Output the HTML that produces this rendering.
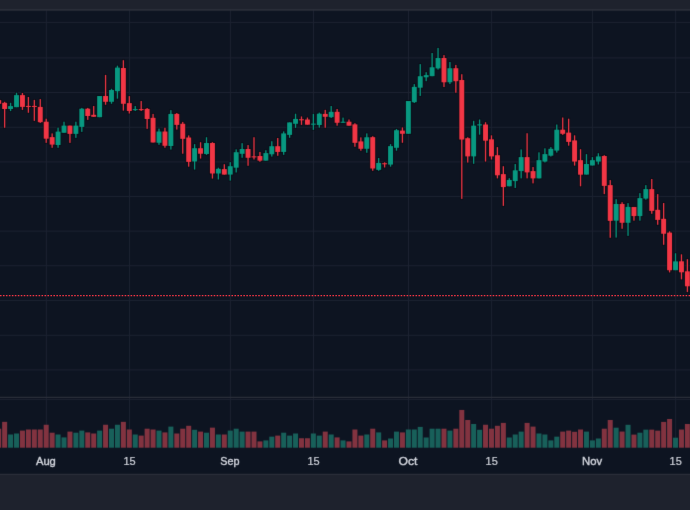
<!DOCTYPE html>
<html lang="en"><head><meta charset="utf-8"><title>Chart</title>
<style>html,body{margin:0;padding:0;background:#0d1421;overflow:hidden}body{width:690px;height:510px;position:relative}svg{display:block;position:absolute;left:0;top:0;}text{font-family:"Liberation Sans",Arial,sans-serif;font-size:11.4px;fill:#d1d4dc;text-anchor:middle;font-weight:400}</style></head><body>
<svg width="690" height="510" viewBox="0 0 690 510">
<defs><filter id="soft" x="0" y="0" width="100%" height="100%" color-interpolation-filters="sRGB"><feConvolveMatrix order="3" kernelMatrix="0.0081 0.0738 0.0081 0.0738 0.6724 0.0738 0.0081 0.0738 0.0081" divisor="1" edgeMode="duplicate" preserveAlpha="true"/></filter></defs><g filter="url(#soft)">
<rect x="-5" y="-5" width="700" height="520" fill="#0d1421"/>
<g stroke="#1c2231" stroke-width="1.0">
<line x1="-5" x2="695" y1="22.40" y2="22.40"/>
<line x1="-5" x2="695" y1="57.90" y2="57.90"/>
<line x1="-5" x2="695" y1="92.50" y2="92.50"/>
<line x1="-5" x2="695" y1="127.30" y2="127.30"/>
<line x1="-5" x2="695" y1="161.90" y2="161.90"/>
<line x1="-5" x2="695" y1="196.45" y2="196.45"/>
<line x1="-5" x2="695" y1="231.10" y2="231.10"/>
<line x1="-5" x2="695" y1="265.70" y2="265.70"/>
<line x1="-5" x2="695" y1="300.45" y2="300.45"/>
<line x1="-5" x2="695" y1="335.30" y2="335.30"/>
<line x1="-5" x2="695" y1="369.90" y2="369.90"/>
<line x1="-5" x2="695" y1="399.40" y2="399.40"/>
<line x1="46.35" x2="46.35" y1="10" y2="448"/>
<line x1="129.47" x2="129.47" y1="10" y2="448"/>
<line x1="230.40" x2="230.40" y1="10" y2="448"/>
<line x1="313.51" x2="313.51" y1="10" y2="448"/>
<line x1="408.51" x2="408.51" y1="10" y2="448"/>
<line x1="491.62" x2="491.62" y1="10" y2="448"/>
<line x1="592.55" x2="592.55" y1="10" y2="448"/>
<line x1="675.67" x2="675.67" y1="10" y2="448"/>
</g>
<line x1="-5" x2="695" y1="397.45" y2="397.45" stroke="#2a2e39" stroke-width="1.2"/>
<g>
<rect x="-3.80" y="428.70" width="5.00" height="19.00" fill="#823340"/>
<rect x="2.14" y="421.85" width="5.00" height="25.85" fill="#823340"/>
<rect x="8.08" y="434.50" width="5.00" height="13.20" fill="#18605a"/>
<rect x="14.02" y="433.50" width="5.00" height="14.20" fill="#18605a"/>
<rect x="19.95" y="430.60" width="5.00" height="17.10" fill="#823340"/>
<rect x="25.89" y="429.50" width="5.00" height="18.20" fill="#823340"/>
<rect x="31.83" y="429.50" width="5.00" height="18.20" fill="#823340"/>
<rect x="37.76" y="429.50" width="5.00" height="18.20" fill="#823340"/>
<rect x="43.70" y="424.75" width="5.00" height="22.95" fill="#823340"/>
<rect x="49.64" y="432.70" width="5.00" height="15.00" fill="#823340"/>
<rect x="55.57" y="434.50" width="5.00" height="13.20" fill="#18605a"/>
<rect x="61.51" y="437.40" width="5.00" height="10.30" fill="#18605a"/>
<rect x="67.45" y="431.60" width="5.00" height="16.10" fill="#823340"/>
<rect x="73.39" y="432.70" width="5.00" height="15.00" fill="#18605a"/>
<rect x="79.32" y="430.60" width="5.00" height="17.10" fill="#18605a"/>
<rect x="85.26" y="432.40" width="5.00" height="15.30" fill="#823340"/>
<rect x="91.20" y="433.50" width="5.00" height="14.20" fill="#823340"/>
<rect x="97.13" y="430.60" width="5.00" height="17.10" fill="#18605a"/>
<rect x="103.07" y="424.75" width="5.00" height="22.95" fill="#823340"/>
<rect x="109.01" y="428.70" width="5.00" height="19.00" fill="#18605a"/>
<rect x="114.94" y="424.75" width="5.00" height="22.95" fill="#18605a"/>
<rect x="120.88" y="421.85" width="5.00" height="25.85" fill="#823340"/>
<rect x="126.82" y="429.50" width="5.00" height="18.20" fill="#823340"/>
<rect x="132.75" y="434.50" width="5.00" height="13.20" fill="#18605a"/>
<rect x="138.69" y="435.60" width="5.00" height="12.10" fill="#823340"/>
<rect x="144.63" y="428.70" width="5.00" height="19.00" fill="#823340"/>
<rect x="150.57" y="429.50" width="5.00" height="18.20" fill="#823340"/>
<rect x="156.50" y="430.60" width="5.00" height="17.10" fill="#18605a"/>
<rect x="162.44" y="432.40" width="5.00" height="15.30" fill="#823340"/>
<rect x="168.38" y="426.60" width="5.00" height="21.10" fill="#18605a"/>
<rect x="174.31" y="433.50" width="5.00" height="14.20" fill="#823340"/>
<rect x="180.25" y="428.70" width="5.00" height="19.00" fill="#823340"/>
<rect x="186.19" y="425.80" width="5.00" height="21.90" fill="#823340"/>
<rect x="192.12" y="429.80" width="5.00" height="17.90" fill="#18605a"/>
<rect x="198.06" y="431.60" width="5.00" height="16.10" fill="#823340"/>
<rect x="204.00" y="432.70" width="5.00" height="15.00" fill="#18605a"/>
<rect x="209.94" y="427.65" width="5.00" height="20.05" fill="#823340"/>
<rect x="215.87" y="434.50" width="5.00" height="13.20" fill="#18605a"/>
<rect x="221.81" y="434.50" width="5.00" height="13.20" fill="#823340"/>
<rect x="227.75" y="430.60" width="5.00" height="17.10" fill="#18605a"/>
<rect x="233.68" y="428.70" width="5.00" height="19.00" fill="#18605a"/>
<rect x="239.62" y="431.60" width="5.00" height="16.10" fill="#18605a"/>
<rect x="245.56" y="431.60" width="5.00" height="16.10" fill="#823340"/>
<rect x="251.50" y="431.60" width="5.00" height="16.10" fill="#823340"/>
<rect x="257.43" y="441.40" width="5.00" height="6.30" fill="#823340"/>
<rect x="263.37" y="440.40" width="5.00" height="7.30" fill="#18605a"/>
<rect x="269.31" y="436.65" width="5.00" height="11.05" fill="#18605a"/>
<rect x="275.24" y="435.60" width="5.00" height="12.10" fill="#823340"/>
<rect x="281.18" y="432.70" width="5.00" height="15.00" fill="#18605a"/>
<rect x="287.12" y="435.60" width="5.00" height="12.10" fill="#18605a"/>
<rect x="293.05" y="433.50" width="5.00" height="14.20" fill="#18605a"/>
<rect x="298.99" y="438.25" width="5.00" height="9.45" fill="#823340"/>
<rect x="304.93" y="438.25" width="5.00" height="9.45" fill="#823340"/>
<rect x="310.87" y="433.50" width="5.00" height="14.20" fill="#18605a"/>
<rect x="316.80" y="435.60" width="5.00" height="12.10" fill="#18605a"/>
<rect x="322.74" y="431.60" width="5.00" height="16.10" fill="#823340"/>
<rect x="328.68" y="434.50" width="5.00" height="13.20" fill="#18605a"/>
<rect x="334.61" y="437.40" width="5.00" height="10.30" fill="#823340"/>
<rect x="340.55" y="440.40" width="5.00" height="7.30" fill="#18605a"/>
<rect x="346.49" y="441.40" width="5.00" height="6.30" fill="#823340"/>
<rect x="352.42" y="429.50" width="5.00" height="18.20" fill="#823340"/>
<rect x="358.36" y="435.60" width="5.00" height="12.10" fill="#823340"/>
<rect x="364.30" y="434.50" width="5.00" height="13.20" fill="#18605a"/>
<rect x="370.24" y="428.70" width="5.00" height="19.00" fill="#823340"/>
<rect x="376.17" y="432.40" width="5.00" height="15.30" fill="#18605a"/>
<rect x="382.11" y="440.40" width="5.00" height="7.30" fill="#823340"/>
<rect x="388.05" y="438.50" width="5.00" height="9.20" fill="#18605a"/>
<rect x="393.98" y="431.60" width="5.00" height="16.10" fill="#18605a"/>
<rect x="399.92" y="432.40" width="5.00" height="15.30" fill="#823340"/>
<rect x="405.86" y="429.50" width="5.00" height="18.20" fill="#18605a"/>
<rect x="411.79" y="429.50" width="5.00" height="18.20" fill="#18605a"/>
<rect x="417.73" y="426.90" width="5.00" height="20.80" fill="#18605a"/>
<rect x="423.67" y="437.50" width="5.00" height="10.20" fill="#18605a"/>
<rect x="429.61" y="428.70" width="5.00" height="19.00" fill="#18605a"/>
<rect x="435.54" y="428.70" width="5.00" height="19.00" fill="#18605a"/>
<rect x="441.48" y="428.70" width="5.00" height="19.00" fill="#823340"/>
<rect x="447.42" y="430.60" width="5.00" height="17.10" fill="#18605a"/>
<rect x="453.35" y="428.70" width="5.00" height="19.00" fill="#823340"/>
<rect x="459.29" y="409.95" width="5.00" height="37.75" fill="#823340"/>
<rect x="465.23" y="420.00" width="5.00" height="27.70" fill="#823340"/>
<rect x="471.16" y="424.00" width="5.00" height="23.70" fill="#18605a"/>
<rect x="477.10" y="429.80" width="5.00" height="17.90" fill="#18605a"/>
<rect x="483.04" y="424.75" width="5.00" height="22.95" fill="#823340"/>
<rect x="488.98" y="428.70" width="5.00" height="19.00" fill="#823340"/>
<rect x="494.91" y="425.80" width="5.00" height="21.90" fill="#823340"/>
<rect x="500.85" y="422.90" width="5.00" height="24.80" fill="#823340"/>
<rect x="506.79" y="437.50" width="5.00" height="10.20" fill="#18605a"/>
<rect x="512.72" y="434.50" width="5.00" height="13.20" fill="#18605a"/>
<rect x="518.66" y="431.60" width="5.00" height="16.10" fill="#18605a"/>
<rect x="524.60" y="422.90" width="5.00" height="24.80" fill="#823340"/>
<rect x="530.53" y="426.60" width="5.00" height="21.10" fill="#823340"/>
<rect x="536.47" y="433.50" width="5.00" height="14.20" fill="#18605a"/>
<rect x="542.41" y="434.50" width="5.00" height="13.20" fill="#18605a"/>
<rect x="548.35" y="440.40" width="5.00" height="7.30" fill="#18605a"/>
<rect x="554.28" y="436.65" width="5.00" height="11.05" fill="#18605a"/>
<rect x="560.22" y="431.60" width="5.00" height="16.10" fill="#823340"/>
<rect x="566.16" y="430.60" width="5.00" height="17.10" fill="#823340"/>
<rect x="572.09" y="431.80" width="5.00" height="15.90" fill="#823340"/>
<rect x="578.03" y="429.50" width="5.00" height="18.20" fill="#823340"/>
<rect x="583.97" y="431.60" width="5.00" height="16.10" fill="#18605a"/>
<rect x="589.90" y="440.40" width="5.00" height="7.30" fill="#18605a"/>
<rect x="595.84" y="438.50" width="5.00" height="9.20" fill="#18605a"/>
<rect x="601.78" y="428.70" width="5.00" height="19.00" fill="#823340"/>
<rect x="607.72" y="420.00" width="5.00" height="27.70" fill="#823340"/>
<rect x="613.65" y="427.70" width="5.00" height="20.00" fill="#18605a"/>
<rect x="619.59" y="431.55" width="5.00" height="16.15" fill="#823340"/>
<rect x="625.53" y="424.80" width="5.00" height="22.90" fill="#18605a"/>
<rect x="631.46" y="434.60" width="5.00" height="13.10" fill="#823340"/>
<rect x="637.40" y="432.70" width="5.00" height="15.00" fill="#18605a"/>
<rect x="643.34" y="429.65" width="5.00" height="18.05" fill="#18605a"/>
<rect x="649.27" y="429.65" width="5.00" height="18.05" fill="#823340"/>
<rect x="655.21" y="430.65" width="5.00" height="17.05" fill="#823340"/>
<rect x="661.15" y="421.90" width="5.00" height="25.80" fill="#823340"/>
<rect x="667.09" y="419.00" width="5.00" height="28.70" fill="#823340"/>
<rect x="673.02" y="437.70" width="5.00" height="10.00" fill="#18605a"/>
<rect x="678.96" y="429.55" width="5.00" height="18.15" fill="#823340"/>
<rect x="684.90" y="424.00" width="5.00" height="23.70" fill="#823340"/>
</g>
<g fill="none" stroke="#05080f" stroke-width="1.6" stroke-opacity="0.7">
<rect x="-1.95" y="100.10" width="1.30" height="3.70"/>
<rect x="-3.77" y="100.10" width="4.95" height="3.70"/>
<rect x="3.99" y="101.80" width="1.30" height="26.00"/>
<rect x="2.17" y="102.80" width="4.95" height="6.20"/>
<rect x="9.93" y="102.80" width="1.30" height="8.30"/>
<rect x="8.10" y="106.10" width="4.95" height="2.90"/>
<rect x="15.87" y="92.75" width="1.30" height="14.45"/>
<rect x="14.04" y="95.10" width="4.95" height="12.10"/>
<rect x="21.80" y="93.00" width="1.30" height="16.90"/>
<rect x="19.98" y="95.10" width="4.95" height="11.80"/>
<rect x="27.74" y="97.00" width="1.30" height="15.80"/>
<rect x="25.91" y="105.90" width="4.95" height="1.10"/>
<rect x="33.68" y="99.90" width="1.30" height="21.00"/>
<rect x="31.85" y="105.90" width="4.95" height="1.10"/>
<rect x="39.61" y="99.10" width="1.30" height="23.80"/>
<rect x="37.79" y="106.90" width="4.95" height="15.30"/>
<rect x="45.55" y="118.70" width="1.30" height="24.20"/>
<rect x="43.73" y="121.70" width="4.95" height="17.00"/>
<rect x="51.49" y="133.40" width="1.30" height="14.40"/>
<rect x="49.66" y="137.10" width="4.95" height="7.50"/>
<rect x="57.42" y="127.60" width="1.30" height="20.20"/>
<rect x="55.60" y="131.60" width="4.95" height="13.40"/>
<rect x="63.36" y="121.70" width="1.30" height="11.10"/>
<rect x="61.54" y="125.60" width="4.95" height="7.20"/>
<rect x="69.30" y="125.60" width="1.30" height="17.30"/>
<rect x="67.47" y="125.60" width="4.95" height="8.30"/>
<rect x="75.23" y="121.70" width="1.30" height="16.20"/>
<rect x="73.41" y="125.60" width="4.95" height="8.30"/>
<rect x="81.17" y="107.90" width="1.30" height="24.00"/>
<rect x="79.35" y="108.70" width="4.95" height="18.20"/>
<rect x="87.11" y="107.90" width="1.30" height="12.00"/>
<rect x="85.28" y="108.70" width="4.95" height="7.30"/>
<rect x="93.05" y="106.00" width="1.30" height="10.80"/>
<rect x="91.22" y="114.80" width="4.95" height="2.00"/>
<rect x="98.98" y="96.00" width="1.30" height="21.20"/>
<rect x="97.16" y="96.00" width="4.95" height="21.20"/>
<rect x="104.92" y="74.90" width="1.30" height="29.90"/>
<rect x="103.10" y="96.00" width="4.95" height="5.80"/>
<rect x="110.86" y="88.80" width="1.30" height="15.00"/>
<rect x="109.03" y="90.00" width="4.95" height="11.80"/>
<rect x="116.79" y="65.65" width="1.30" height="33.05"/>
<rect x="114.97" y="67.60" width="4.95" height="23.60"/>
<rect x="122.73" y="60.20" width="1.30" height="50.45"/>
<rect x="120.91" y="68.00" width="4.95" height="35.80"/>
<rect x="128.67" y="96.10" width="1.30" height="17.45"/>
<rect x="126.84" y="103.10" width="4.95" height="7.90"/>
<rect x="134.60" y="106.00" width="1.30" height="5.00"/>
<rect x="132.78" y="109.05" width="4.95" height="1.10"/>
<rect x="140.54" y="101.00" width="1.30" height="10.00"/>
<rect x="138.72" y="109.05" width="4.95" height="1.10"/>
<rect x="146.48" y="108.00" width="1.30" height="20.85"/>
<rect x="144.65" y="108.90" width="4.95" height="10.10"/>
<rect x="152.42" y="113.90" width="1.30" height="28.60"/>
<rect x="150.59" y="117.80" width="4.95" height="24.70"/>
<rect x="158.35" y="128.60" width="1.30" height="16.25"/>
<rect x="156.53" y="131.50" width="4.95" height="11.30"/>
<rect x="164.29" y="127.70" width="1.30" height="20.05"/>
<rect x="162.47" y="131.50" width="4.95" height="14.30"/>
<rect x="170.23" y="110.10" width="1.30" height="39.50"/>
<rect x="168.40" y="113.90" width="4.95" height="32.10"/>
<rect x="176.16" y="113.00" width="1.30" height="16.60"/>
<rect x="174.34" y="113.90" width="4.95" height="11.00"/>
<rect x="182.10" y="121.90" width="1.30" height="31.85"/>
<rect x="180.28" y="123.75" width="4.95" height="15.10"/>
<rect x="188.04" y="135.40" width="1.30" height="31.30"/>
<rect x="186.21" y="137.50" width="4.95" height="24.40"/>
<rect x="193.97" y="144.10" width="1.30" height="25.50"/>
<rect x="192.15" y="148.20" width="4.95" height="13.30"/>
<rect x="199.91" y="142.20" width="1.30" height="16.40"/>
<rect x="198.09" y="148.20" width="4.95" height="5.55"/>
<rect x="205.85" y="137.20" width="1.30" height="17.70"/>
<rect x="204.02" y="143.00" width="4.95" height="11.00"/>
<rect x="211.79" y="142.20" width="1.30" height="36.40"/>
<rect x="209.96" y="143.00" width="4.95" height="30.50"/>
<rect x="217.72" y="167.70" width="1.30" height="11.80"/>
<rect x="215.90" y="168.80" width="4.95" height="4.70"/>
<rect x="223.66" y="164.20" width="1.30" height="10.40"/>
<rect x="221.84" y="169.10" width="4.95" height="5.50"/>
<rect x="229.60" y="162.10" width="1.30" height="18.55"/>
<rect x="227.77" y="166.20" width="4.95" height="8.40"/>
<rect x="235.53" y="149.35" width="1.30" height="23.15"/>
<rect x="233.71" y="152.20" width="4.95" height="15.50"/>
<rect x="241.47" y="143.15" width="1.30" height="14.65"/>
<rect x="239.65" y="149.00" width="4.95" height="4.85"/>
<rect x="247.41" y="145.05" width="1.30" height="20.75"/>
<rect x="245.58" y="149.00" width="4.95" height="8.80"/>
<rect x="253.34" y="137.20" width="1.30" height="22.30"/>
<rect x="251.52" y="156.32" width="4.95" height="1.10"/>
<rect x="259.28" y="151.95" width="1.30" height="9.85"/>
<rect x="257.46" y="156.00" width="4.95" height="4.65"/>
<rect x="265.22" y="150.20" width="1.30" height="10.45"/>
<rect x="263.39" y="153.10" width="4.95" height="7.55"/>
<rect x="271.16" y="141.20" width="1.30" height="15.40"/>
<rect x="269.33" y="146.20" width="4.95" height="8.10"/>
<rect x="277.09" y="138.00" width="1.30" height="17.80"/>
<rect x="275.27" y="146.20" width="4.95" height="5.75"/>
<rect x="283.03" y="131.40" width="1.30" height="23.45"/>
<rect x="281.20" y="133.40" width="4.95" height="18.55"/>
<rect x="288.97" y="122.40" width="1.30" height="15.40"/>
<rect x="287.14" y="122.40" width="4.95" height="12.50"/>
<rect x="294.90" y="113.70" width="1.30" height="14.25"/>
<rect x="293.08" y="118.90" width="4.95" height="4.90"/>
<rect x="300.84" y="116.40" width="1.30" height="8.50"/>
<rect x="299.02" y="119.23" width="4.95" height="1.10"/>
<rect x="306.78" y="117.50" width="1.30" height="7.20"/>
<rect x="304.95" y="119.50" width="4.95" height="5.20"/>
<rect x="312.72" y="113.80" width="1.30" height="16.10"/>
<rect x="310.89" y="123.60" width="4.95" height="1.10"/>
<rect x="318.65" y="112.60" width="1.30" height="15.10"/>
<rect x="316.83" y="113.70" width="4.95" height="11.30"/>
<rect x="324.59" y="109.85" width="1.30" height="17.95"/>
<rect x="322.76" y="113.90" width="4.95" height="2.90"/>
<rect x="330.53" y="106.00" width="1.30" height="12.00"/>
<rect x="328.70" y="111.80" width="4.95" height="5.40"/>
<rect x="336.46" y="109.00" width="1.30" height="16.70"/>
<rect x="334.64" y="111.80" width="4.95" height="11.00"/>
<rect x="342.40" y="117.60" width="1.30" height="5.20"/>
<rect x="340.57" y="121.70" width="4.95" height="1.10"/>
<rect x="348.34" y="119.50" width="1.30" height="6.20"/>
<rect x="346.51" y="121.70" width="4.95" height="4.00"/>
<rect x="354.27" y="123.20" width="1.30" height="23.60"/>
<rect x="352.45" y="124.35" width="4.95" height="18.50"/>
<rect x="360.21" y="137.35" width="1.30" height="13.40"/>
<rect x="358.39" y="141.40" width="4.95" height="7.40"/>
<rect x="366.15" y="133.35" width="1.30" height="19.45"/>
<rect x="364.32" y="137.25" width="4.95" height="11.55"/>
<rect x="372.09" y="136.20" width="1.30" height="34.60"/>
<rect x="370.26" y="137.15" width="4.95" height="31.35"/>
<rect x="378.02" y="158.00" width="1.30" height="12.80"/>
<rect x="376.20" y="162.90" width="4.95" height="6.95"/>
<rect x="383.96" y="162.30" width="1.30" height="5.20"/>
<rect x="382.13" y="163.20" width="4.95" height="1.10"/>
<rect x="389.90" y="144.10" width="1.30" height="22.60"/>
<rect x="388.07" y="146.10" width="4.95" height="18.50"/>
<rect x="395.83" y="129.00" width="1.30" height="21.70"/>
<rect x="394.01" y="130.20" width="4.95" height="17.60"/>
<rect x="401.77" y="127.40" width="1.30" height="15.40"/>
<rect x="399.94" y="130.60" width="4.95" height="3.20"/>
<rect x="407.71" y="101.00" width="1.30" height="32.80"/>
<rect x="405.88" y="101.00" width="4.95" height="32.80"/>
<rect x="413.64" y="84.10" width="1.30" height="18.90"/>
<rect x="411.82" y="86.85" width="4.95" height="15.35"/>
<rect x="419.58" y="64.10" width="1.30" height="31.85"/>
<rect x="417.76" y="76.20" width="4.95" height="11.50"/>
<rect x="425.52" y="72.20" width="1.30" height="9.00"/>
<rect x="423.69" y="75.10" width="4.95" height="2.20"/>
<rect x="431.46" y="53.00" width="1.30" height="23.20"/>
<rect x="429.63" y="67.25" width="4.95" height="8.95"/>
<rect x="437.39" y="47.90" width="1.30" height="21.70"/>
<rect x="435.57" y="58.00" width="4.95" height="10.40"/>
<rect x="443.33" y="55.10" width="1.30" height="31.95"/>
<rect x="441.50" y="58.00" width="4.95" height="24.30"/>
<rect x="449.27" y="62.00" width="1.30" height="22.10"/>
<rect x="447.44" y="68.20" width="4.95" height="14.10"/>
<rect x="455.20" y="64.90" width="1.30" height="27.90"/>
<rect x="453.38" y="68.20" width="4.95" height="13.00"/>
<rect x="461.14" y="74.20" width="1.30" height="124.70"/>
<rect x="459.31" y="80.00" width="4.95" height="59.55"/>
<rect x="467.08" y="137.25" width="1.30" height="25.35"/>
<rect x="465.25" y="138.20" width="4.95" height="18.20"/>
<rect x="473.01" y="120.80" width="1.30" height="43.00"/>
<rect x="471.19" y="125.65" width="4.95" height="30.75"/>
<rect x="478.95" y="119.50" width="1.30" height="15.20"/>
<rect x="477.13" y="124.33" width="4.95" height="1.10"/>
<rect x="484.89" y="122.20" width="1.30" height="39.40"/>
<rect x="483.06" y="124.50" width="4.95" height="16.20"/>
<rect x="490.83" y="135.30" width="1.30" height="24.25"/>
<rect x="489.00" y="139.30" width="4.95" height="17.10"/>
<rect x="496.76" y="147.10" width="1.30" height="31.30"/>
<rect x="494.94" y="155.20" width="4.95" height="20.10"/>
<rect x="502.70" y="166.20" width="1.30" height="39.70"/>
<rect x="500.87" y="174.10" width="4.95" height="13.00"/>
<rect x="508.64" y="178.20" width="1.30" height="8.10"/>
<rect x="506.81" y="179.90" width="4.95" height="6.40"/>
<rect x="514.57" y="164.00" width="1.30" height="24.00"/>
<rect x="512.75" y="170.30" width="4.95" height="10.80"/>
<rect x="520.51" y="149.40" width="1.30" height="29.00"/>
<rect x="518.69" y="157.10" width="4.95" height="14.00"/>
<rect x="526.45" y="133.20" width="1.30" height="45.20"/>
<rect x="524.62" y="157.10" width="4.95" height="15.30"/>
<rect x="532.38" y="167.00" width="1.30" height="16.40"/>
<rect x="530.56" y="171.10" width="4.95" height="7.30"/>
<rect x="538.32" y="152.30" width="1.30" height="26.10"/>
<rect x="536.50" y="160.15" width="4.95" height="18.25"/>
<rect x="544.26" y="148.30" width="1.30" height="14.20"/>
<rect x="542.43" y="154.10" width="4.95" height="7.50"/>
<rect x="550.20" y="147.10" width="1.30" height="9.45"/>
<rect x="548.37" y="148.80" width="4.95" height="6.90"/>
<rect x="556.13" y="124.50" width="1.30" height="28.10"/>
<rect x="554.31" y="129.70" width="4.95" height="20.90"/>
<rect x="562.07" y="117.50" width="1.30" height="17.40"/>
<rect x="560.24" y="129.70" width="4.95" height="4.10"/>
<rect x="568.01" y="118.70" width="1.30" height="27.00"/>
<rect x="566.18" y="132.60" width="4.95" height="9.30"/>
<rect x="573.94" y="135.30" width="1.30" height="30.35"/>
<rect x="572.12" y="140.40" width="4.95" height="21.20"/>
<rect x="579.88" y="149.20" width="1.30" height="37.10"/>
<rect x="578.06" y="160.15" width="4.95" height="14.55"/>
<rect x="585.82" y="154.10" width="1.30" height="20.50"/>
<rect x="583.99" y="164.00" width="4.95" height="10.60"/>
<rect x="591.75" y="157.10" width="1.30" height="8.40"/>
<rect x="589.93" y="160.15" width="4.95" height="5.35"/>
<rect x="597.69" y="153.20" width="1.30" height="11.30"/>
<rect x="595.87" y="156.40" width="4.95" height="5.20"/>
<rect x="603.63" y="155.20" width="1.30" height="38.90"/>
<rect x="601.80" y="156.00" width="4.95" height="29.90"/>
<rect x="609.57" y="180.10" width="1.30" height="57.70"/>
<rect x="607.74" y="185.10" width="4.95" height="35.75"/>
<rect x="615.50" y="199.20" width="1.30" height="38.40"/>
<rect x="613.68" y="203.95" width="4.95" height="16.75"/>
<rect x="621.44" y="202.20" width="1.30" height="26.60"/>
<rect x="619.61" y="203.95" width="4.95" height="18.85"/>
<rect x="627.38" y="203.10" width="1.30" height="32.80"/>
<rect x="625.55" y="206.85" width="4.95" height="15.95"/>
<rect x="633.31" y="206.95" width="1.30" height="13.75"/>
<rect x="631.49" y="206.95" width="4.95" height="9.15"/>
<rect x="639.25" y="193.10" width="1.30" height="27.60"/>
<rect x="637.43" y="198.10" width="4.95" height="18.00"/>
<rect x="645.19" y="185.10" width="1.30" height="14.60"/>
<rect x="643.36" y="189.10" width="4.95" height="9.50"/>
<rect x="651.12" y="179.00" width="1.30" height="34.80"/>
<rect x="649.30" y="189.10" width="4.95" height="21.80"/>
<rect x="657.06" y="194.10" width="1.30" height="30.70"/>
<rect x="655.24" y="209.80" width="4.95" height="10.10"/>
<rect x="663.00" y="203.00" width="1.30" height="41.80"/>
<rect x="661.17" y="218.80" width="4.95" height="14.95"/>
<rect x="668.94" y="231.30" width="1.30" height="41.15"/>
<rect x="667.11" y="232.60" width="4.95" height="37.65"/>
<rect x="674.87" y="253.20" width="1.30" height="17.05"/>
<rect x="673.05" y="261.35" width="4.95" height="8.90"/>
<rect x="680.81" y="254.30" width="1.30" height="25.10"/>
<rect x="678.98" y="261.30" width="4.95" height="11.00"/>
<rect x="686.75" y="259.15" width="1.30" height="32.95"/>
<rect x="684.92" y="271.30" width="4.95" height="15.00"/>
</g>
<g>
<rect x="-1.95" y="100.10" width="1.30" height="3.70" fill="#f23645"/>
<rect x="-3.77" y="100.10" width="4.95" height="3.70" fill="#f23645"/>
<rect x="3.99" y="101.80" width="1.30" height="26.00" fill="#f23645"/>
<rect x="2.17" y="102.80" width="4.95" height="6.20" fill="#f23645"/>
<rect x="9.93" y="102.80" width="1.30" height="8.30" fill="#089981"/>
<rect x="8.10" y="106.10" width="4.95" height="2.90" fill="#089981"/>
<rect x="15.87" y="92.75" width="1.30" height="14.45" fill="#089981"/>
<rect x="14.04" y="95.10" width="4.95" height="12.10" fill="#089981"/>
<rect x="21.80" y="93.00" width="1.30" height="16.90" fill="#f23645"/>
<rect x="19.98" y="95.10" width="4.95" height="11.80" fill="#f23645"/>
<rect x="27.74" y="97.00" width="1.30" height="15.80" fill="#f23645"/>
<rect x="25.91" y="105.90" width="4.95" height="1.10" fill="#f23645"/>
<rect x="33.68" y="99.90" width="1.30" height="21.00" fill="#f23645"/>
<rect x="31.85" y="105.90" width="4.95" height="1.10" fill="#f23645"/>
<rect x="39.61" y="99.10" width="1.30" height="23.80" fill="#f23645"/>
<rect x="37.79" y="106.90" width="4.95" height="15.30" fill="#f23645"/>
<rect x="45.55" y="118.70" width="1.30" height="24.20" fill="#f23645"/>
<rect x="43.73" y="121.70" width="4.95" height="17.00" fill="#f23645"/>
<rect x="51.49" y="133.40" width="1.30" height="14.40" fill="#f23645"/>
<rect x="49.66" y="137.10" width="4.95" height="7.50" fill="#f23645"/>
<rect x="57.42" y="127.60" width="1.30" height="20.20" fill="#089981"/>
<rect x="55.60" y="131.60" width="4.95" height="13.40" fill="#089981"/>
<rect x="63.36" y="121.70" width="1.30" height="11.10" fill="#089981"/>
<rect x="61.54" y="125.60" width="4.95" height="7.20" fill="#089981"/>
<rect x="69.30" y="125.60" width="1.30" height="17.30" fill="#f23645"/>
<rect x="67.47" y="125.60" width="4.95" height="8.30" fill="#f23645"/>
<rect x="75.23" y="121.70" width="1.30" height="16.20" fill="#089981"/>
<rect x="73.41" y="125.60" width="4.95" height="8.30" fill="#089981"/>
<rect x="81.17" y="107.90" width="1.30" height="24.00" fill="#089981"/>
<rect x="79.35" y="108.70" width="4.95" height="18.20" fill="#089981"/>
<rect x="87.11" y="107.90" width="1.30" height="12.00" fill="#f23645"/>
<rect x="85.28" y="108.70" width="4.95" height="7.30" fill="#f23645"/>
<rect x="93.05" y="106.00" width="1.30" height="10.80" fill="#f23645"/>
<rect x="91.22" y="114.80" width="4.95" height="2.00" fill="#f23645"/>
<rect x="98.98" y="96.00" width="1.30" height="21.20" fill="#089981"/>
<rect x="97.16" y="96.00" width="4.95" height="21.20" fill="#089981"/>
<rect x="104.92" y="74.90" width="1.30" height="29.90" fill="#f23645"/>
<rect x="103.10" y="96.00" width="4.95" height="5.80" fill="#f23645"/>
<rect x="110.86" y="88.80" width="1.30" height="15.00" fill="#089981"/>
<rect x="109.03" y="90.00" width="4.95" height="11.80" fill="#089981"/>
<rect x="116.79" y="65.65" width="1.30" height="33.05" fill="#089981"/>
<rect x="114.97" y="67.60" width="4.95" height="23.60" fill="#089981"/>
<rect x="122.73" y="60.20" width="1.30" height="50.45" fill="#f23645"/>
<rect x="120.91" y="68.00" width="4.95" height="35.80" fill="#f23645"/>
<rect x="128.67" y="96.10" width="1.30" height="17.45" fill="#f23645"/>
<rect x="126.84" y="103.10" width="4.95" height="7.90" fill="#f23645"/>
<rect x="134.60" y="106.00" width="1.30" height="5.00" fill="#089981"/>
<rect x="132.78" y="109.05" width="4.95" height="1.10" fill="#089981"/>
<rect x="140.54" y="101.00" width="1.30" height="10.00" fill="#f23645"/>
<rect x="138.72" y="109.05" width="4.95" height="1.10" fill="#f23645"/>
<rect x="146.48" y="108.00" width="1.30" height="20.85" fill="#f23645"/>
<rect x="144.65" y="108.90" width="4.95" height="10.10" fill="#f23645"/>
<rect x="152.42" y="113.90" width="1.30" height="28.60" fill="#f23645"/>
<rect x="150.59" y="117.80" width="4.95" height="24.70" fill="#f23645"/>
<rect x="158.35" y="128.60" width="1.30" height="16.25" fill="#089981"/>
<rect x="156.53" y="131.50" width="4.95" height="11.30" fill="#089981"/>
<rect x="164.29" y="127.70" width="1.30" height="20.05" fill="#f23645"/>
<rect x="162.47" y="131.50" width="4.95" height="14.30" fill="#f23645"/>
<rect x="170.23" y="110.10" width="1.30" height="39.50" fill="#089981"/>
<rect x="168.40" y="113.90" width="4.95" height="32.10" fill="#089981"/>
<rect x="176.16" y="113.00" width="1.30" height="16.60" fill="#f23645"/>
<rect x="174.34" y="113.90" width="4.95" height="11.00" fill="#f23645"/>
<rect x="182.10" y="121.90" width="1.30" height="31.85" fill="#f23645"/>
<rect x="180.28" y="123.75" width="4.95" height="15.10" fill="#f23645"/>
<rect x="188.04" y="135.40" width="1.30" height="31.30" fill="#f23645"/>
<rect x="186.21" y="137.50" width="4.95" height="24.40" fill="#f23645"/>
<rect x="193.97" y="144.10" width="1.30" height="25.50" fill="#089981"/>
<rect x="192.15" y="148.20" width="4.95" height="13.30" fill="#089981"/>
<rect x="199.91" y="142.20" width="1.30" height="16.40" fill="#f23645"/>
<rect x="198.09" y="148.20" width="4.95" height="5.55" fill="#f23645"/>
<rect x="205.85" y="137.20" width="1.30" height="17.70" fill="#089981"/>
<rect x="204.02" y="143.00" width="4.95" height="11.00" fill="#089981"/>
<rect x="211.79" y="142.20" width="1.30" height="36.40" fill="#f23645"/>
<rect x="209.96" y="143.00" width="4.95" height="30.50" fill="#f23645"/>
<rect x="217.72" y="167.70" width="1.30" height="11.80" fill="#089981"/>
<rect x="215.90" y="168.80" width="4.95" height="4.70" fill="#089981"/>
<rect x="223.66" y="164.20" width="1.30" height="10.40" fill="#f23645"/>
<rect x="221.84" y="169.10" width="4.95" height="5.50" fill="#f23645"/>
<rect x="229.60" y="162.10" width="1.30" height="18.55" fill="#089981"/>
<rect x="227.77" y="166.20" width="4.95" height="8.40" fill="#089981"/>
<rect x="235.53" y="149.35" width="1.30" height="23.15" fill="#089981"/>
<rect x="233.71" y="152.20" width="4.95" height="15.50" fill="#089981"/>
<rect x="241.47" y="143.15" width="1.30" height="14.65" fill="#089981"/>
<rect x="239.65" y="149.00" width="4.95" height="4.85" fill="#089981"/>
<rect x="247.41" y="145.05" width="1.30" height="20.75" fill="#f23645"/>
<rect x="245.58" y="149.00" width="4.95" height="8.80" fill="#f23645"/>
<rect x="253.34" y="137.20" width="1.30" height="22.30" fill="#f23645"/>
<rect x="251.52" y="156.32" width="4.95" height="1.10" fill="#f23645"/>
<rect x="259.28" y="151.95" width="1.30" height="9.85" fill="#f23645"/>
<rect x="257.46" y="156.00" width="4.95" height="4.65" fill="#f23645"/>
<rect x="265.22" y="150.20" width="1.30" height="10.45" fill="#089981"/>
<rect x="263.39" y="153.10" width="4.95" height="7.55" fill="#089981"/>
<rect x="271.16" y="141.20" width="1.30" height="15.40" fill="#089981"/>
<rect x="269.33" y="146.20" width="4.95" height="8.10" fill="#089981"/>
<rect x="277.09" y="138.00" width="1.30" height="17.80" fill="#f23645"/>
<rect x="275.27" y="146.20" width="4.95" height="5.75" fill="#f23645"/>
<rect x="283.03" y="131.40" width="1.30" height="23.45" fill="#089981"/>
<rect x="281.20" y="133.40" width="4.95" height="18.55" fill="#089981"/>
<rect x="288.97" y="122.40" width="1.30" height="15.40" fill="#089981"/>
<rect x="287.14" y="122.40" width="4.95" height="12.50" fill="#089981"/>
<rect x="294.90" y="113.70" width="1.30" height="14.25" fill="#089981"/>
<rect x="293.08" y="118.90" width="4.95" height="4.90" fill="#089981"/>
<rect x="300.84" y="116.40" width="1.30" height="8.50" fill="#f23645"/>
<rect x="299.02" y="119.23" width="4.95" height="1.10" fill="#f23645"/>
<rect x="306.78" y="117.50" width="1.30" height="7.20" fill="#f23645"/>
<rect x="304.95" y="119.50" width="4.95" height="5.20" fill="#f23645"/>
<rect x="312.72" y="113.80" width="1.30" height="16.10" fill="#089981"/>
<rect x="310.89" y="123.60" width="4.95" height="1.10" fill="#089981"/>
<rect x="318.65" y="112.60" width="1.30" height="15.10" fill="#089981"/>
<rect x="316.83" y="113.70" width="4.95" height="11.30" fill="#089981"/>
<rect x="324.59" y="109.85" width="1.30" height="17.95" fill="#f23645"/>
<rect x="322.76" y="113.90" width="4.95" height="2.90" fill="#f23645"/>
<rect x="330.53" y="106.00" width="1.30" height="12.00" fill="#089981"/>
<rect x="328.70" y="111.80" width="4.95" height="5.40" fill="#089981"/>
<rect x="336.46" y="109.00" width="1.30" height="16.70" fill="#f23645"/>
<rect x="334.64" y="111.80" width="4.95" height="11.00" fill="#f23645"/>
<rect x="342.40" y="117.60" width="1.30" height="5.20" fill="#089981"/>
<rect x="340.57" y="121.70" width="4.95" height="1.10" fill="#089981"/>
<rect x="348.34" y="119.50" width="1.30" height="6.20" fill="#f23645"/>
<rect x="346.51" y="121.70" width="4.95" height="4.00" fill="#f23645"/>
<rect x="354.27" y="123.20" width="1.30" height="23.60" fill="#f23645"/>
<rect x="352.45" y="124.35" width="4.95" height="18.50" fill="#f23645"/>
<rect x="360.21" y="137.35" width="1.30" height="13.40" fill="#f23645"/>
<rect x="358.39" y="141.40" width="4.95" height="7.40" fill="#f23645"/>
<rect x="366.15" y="133.35" width="1.30" height="19.45" fill="#089981"/>
<rect x="364.32" y="137.25" width="4.95" height="11.55" fill="#089981"/>
<rect x="372.09" y="136.20" width="1.30" height="34.60" fill="#f23645"/>
<rect x="370.26" y="137.15" width="4.95" height="31.35" fill="#f23645"/>
<rect x="378.02" y="158.00" width="1.30" height="12.80" fill="#089981"/>
<rect x="376.20" y="162.90" width="4.95" height="6.95" fill="#089981"/>
<rect x="383.96" y="162.30" width="1.30" height="5.20" fill="#f23645"/>
<rect x="382.13" y="163.20" width="4.95" height="1.10" fill="#f23645"/>
<rect x="389.90" y="144.10" width="1.30" height="22.60" fill="#089981"/>
<rect x="388.07" y="146.10" width="4.95" height="18.50" fill="#089981"/>
<rect x="395.83" y="129.00" width="1.30" height="21.70" fill="#089981"/>
<rect x="394.01" y="130.20" width="4.95" height="17.60" fill="#089981"/>
<rect x="401.77" y="127.40" width="1.30" height="15.40" fill="#f23645"/>
<rect x="399.94" y="130.60" width="4.95" height="3.20" fill="#f23645"/>
<rect x="407.71" y="101.00" width="1.30" height="32.80" fill="#089981"/>
<rect x="405.88" y="101.00" width="4.95" height="32.80" fill="#089981"/>
<rect x="413.64" y="84.10" width="1.30" height="18.90" fill="#089981"/>
<rect x="411.82" y="86.85" width="4.95" height="15.35" fill="#089981"/>
<rect x="419.58" y="64.10" width="1.30" height="31.85" fill="#089981"/>
<rect x="417.76" y="76.20" width="4.95" height="11.50" fill="#089981"/>
<rect x="425.52" y="72.20" width="1.30" height="9.00" fill="#089981"/>
<rect x="423.69" y="75.10" width="4.95" height="2.20" fill="#089981"/>
<rect x="431.46" y="53.00" width="1.30" height="23.20" fill="#089981"/>
<rect x="429.63" y="67.25" width="4.95" height="8.95" fill="#089981"/>
<rect x="437.39" y="47.90" width="1.30" height="21.70" fill="#089981"/>
<rect x="435.57" y="58.00" width="4.95" height="10.40" fill="#089981"/>
<rect x="443.33" y="55.10" width="1.30" height="31.95" fill="#f23645"/>
<rect x="441.50" y="58.00" width="4.95" height="24.30" fill="#f23645"/>
<rect x="449.27" y="62.00" width="1.30" height="22.10" fill="#089981"/>
<rect x="447.44" y="68.20" width="4.95" height="14.10" fill="#089981"/>
<rect x="455.20" y="64.90" width="1.30" height="27.90" fill="#f23645"/>
<rect x="453.38" y="68.20" width="4.95" height="13.00" fill="#f23645"/>
<rect x="461.14" y="74.20" width="1.30" height="124.70" fill="#f23645"/>
<rect x="459.31" y="80.00" width="4.95" height="59.55" fill="#f23645"/>
<rect x="467.08" y="137.25" width="1.30" height="25.35" fill="#f23645"/>
<rect x="465.25" y="138.20" width="4.95" height="18.20" fill="#f23645"/>
<rect x="473.01" y="120.80" width="1.30" height="43.00" fill="#089981"/>
<rect x="471.19" y="125.65" width="4.95" height="30.75" fill="#089981"/>
<rect x="478.95" y="119.50" width="1.30" height="15.20" fill="#089981"/>
<rect x="477.13" y="124.33" width="4.95" height="1.10" fill="#089981"/>
<rect x="484.89" y="122.20" width="1.30" height="39.40" fill="#f23645"/>
<rect x="483.06" y="124.50" width="4.95" height="16.20" fill="#f23645"/>
<rect x="490.83" y="135.30" width="1.30" height="24.25" fill="#f23645"/>
<rect x="489.00" y="139.30" width="4.95" height="17.10" fill="#f23645"/>
<rect x="496.76" y="147.10" width="1.30" height="31.30" fill="#f23645"/>
<rect x="494.94" y="155.20" width="4.95" height="20.10" fill="#f23645"/>
<rect x="502.70" y="166.20" width="1.30" height="39.70" fill="#f23645"/>
<rect x="500.87" y="174.10" width="4.95" height="13.00" fill="#f23645"/>
<rect x="508.64" y="178.20" width="1.30" height="8.10" fill="#089981"/>
<rect x="506.81" y="179.90" width="4.95" height="6.40" fill="#089981"/>
<rect x="514.57" y="164.00" width="1.30" height="24.00" fill="#089981"/>
<rect x="512.75" y="170.30" width="4.95" height="10.80" fill="#089981"/>
<rect x="520.51" y="149.40" width="1.30" height="29.00" fill="#089981"/>
<rect x="518.69" y="157.10" width="4.95" height="14.00" fill="#089981"/>
<rect x="526.45" y="133.20" width="1.30" height="45.20" fill="#f23645"/>
<rect x="524.62" y="157.10" width="4.95" height="15.30" fill="#f23645"/>
<rect x="532.38" y="167.00" width="1.30" height="16.40" fill="#f23645"/>
<rect x="530.56" y="171.10" width="4.95" height="7.30" fill="#f23645"/>
<rect x="538.32" y="152.30" width="1.30" height="26.10" fill="#089981"/>
<rect x="536.50" y="160.15" width="4.95" height="18.25" fill="#089981"/>
<rect x="544.26" y="148.30" width="1.30" height="14.20" fill="#089981"/>
<rect x="542.43" y="154.10" width="4.95" height="7.50" fill="#089981"/>
<rect x="550.20" y="147.10" width="1.30" height="9.45" fill="#089981"/>
<rect x="548.37" y="148.80" width="4.95" height="6.90" fill="#089981"/>
<rect x="556.13" y="124.50" width="1.30" height="28.10" fill="#089981"/>
<rect x="554.31" y="129.70" width="4.95" height="20.90" fill="#089981"/>
<rect x="562.07" y="117.50" width="1.30" height="17.40" fill="#f23645"/>
<rect x="560.24" y="129.70" width="4.95" height="4.10" fill="#f23645"/>
<rect x="568.01" y="118.70" width="1.30" height="27.00" fill="#f23645"/>
<rect x="566.18" y="132.60" width="4.95" height="9.30" fill="#f23645"/>
<rect x="573.94" y="135.30" width="1.30" height="30.35" fill="#f23645"/>
<rect x="572.12" y="140.40" width="4.95" height="21.20" fill="#f23645"/>
<rect x="579.88" y="149.20" width="1.30" height="37.10" fill="#f23645"/>
<rect x="578.06" y="160.15" width="4.95" height="14.55" fill="#f23645"/>
<rect x="585.82" y="154.10" width="1.30" height="20.50" fill="#089981"/>
<rect x="583.99" y="164.00" width="4.95" height="10.60" fill="#089981"/>
<rect x="591.75" y="157.10" width="1.30" height="8.40" fill="#089981"/>
<rect x="589.93" y="160.15" width="4.95" height="5.35" fill="#089981"/>
<rect x="597.69" y="153.20" width="1.30" height="11.30" fill="#089981"/>
<rect x="595.87" y="156.40" width="4.95" height="5.20" fill="#089981"/>
<rect x="603.63" y="155.20" width="1.30" height="38.90" fill="#f23645"/>
<rect x="601.80" y="156.00" width="4.95" height="29.90" fill="#f23645"/>
<rect x="609.57" y="180.10" width="1.30" height="57.70" fill="#f23645"/>
<rect x="607.74" y="185.10" width="4.95" height="35.75" fill="#f23645"/>
<rect x="615.50" y="199.20" width="1.30" height="38.40" fill="#089981"/>
<rect x="613.68" y="203.95" width="4.95" height="16.75" fill="#089981"/>
<rect x="621.44" y="202.20" width="1.30" height="26.60" fill="#f23645"/>
<rect x="619.61" y="203.95" width="4.95" height="18.85" fill="#f23645"/>
<rect x="627.38" y="203.10" width="1.30" height="32.80" fill="#089981"/>
<rect x="625.55" y="206.85" width="4.95" height="15.95" fill="#089981"/>
<rect x="633.31" y="206.95" width="1.30" height="13.75" fill="#f23645"/>
<rect x="631.49" y="206.95" width="4.95" height="9.15" fill="#f23645"/>
<rect x="639.25" y="193.10" width="1.30" height="27.60" fill="#089981"/>
<rect x="637.43" y="198.10" width="4.95" height="18.00" fill="#089981"/>
<rect x="645.19" y="185.10" width="1.30" height="14.60" fill="#089981"/>
<rect x="643.36" y="189.10" width="4.95" height="9.50" fill="#089981"/>
<rect x="651.12" y="179.00" width="1.30" height="34.80" fill="#f23645"/>
<rect x="649.30" y="189.10" width="4.95" height="21.80" fill="#f23645"/>
<rect x="657.06" y="194.10" width="1.30" height="30.70" fill="#f23645"/>
<rect x="655.24" y="209.80" width="4.95" height="10.10" fill="#f23645"/>
<rect x="663.00" y="203.00" width="1.30" height="41.80" fill="#f23645"/>
<rect x="661.17" y="218.80" width="4.95" height="14.95" fill="#f23645"/>
<rect x="668.94" y="231.30" width="1.30" height="41.15" fill="#f23645"/>
<rect x="667.11" y="232.60" width="4.95" height="37.65" fill="#f23645"/>
<rect x="674.87" y="253.20" width="1.30" height="17.05" fill="#089981"/>
<rect x="673.05" y="261.35" width="4.95" height="8.90" fill="#089981"/>
<rect x="680.81" y="254.30" width="1.30" height="25.10" fill="#f23645"/>
<rect x="678.98" y="261.30" width="4.95" height="11.00" fill="#f23645"/>
<rect x="686.75" y="259.15" width="1.30" height="32.95" fill="#f23645"/>
<rect x="684.92" y="271.30" width="4.95" height="15.00" fill="#f23645"/>
</g>
<rect x="-5" y="-5" width="700" height="14.3" fill="#1e222d"/>
<line x1="-5" x2="695" y1="9.85" y2="9.85" stroke="#2a2e39" stroke-width="1.6"/>
<rect x="-5" y="474" width="700" height="40" fill="#1e222d"/>
<line x1="-5" x2="695" y1="474.4" y2="474.4" stroke="#2a2e39" stroke-width="1.2"/>
<text x="45.90" y="465.20" textLength="19.9" lengthAdjust="spacingAndGlyphs" stroke="#d1d4dc" stroke-width="0.4">Aug</text>
<text x="129.52" y="465.20" textLength="12.2" lengthAdjust="spacingAndGlyphs" stroke="#d1d4dc" stroke-width="0.22">15</text>
<text x="229.95" y="465.20" textLength="19.2" lengthAdjust="spacingAndGlyphs" stroke="#d1d4dc" stroke-width="0.4">Sep</text>
<text x="313.56" y="465.20" textLength="12.2" lengthAdjust="spacingAndGlyphs" stroke="#d1d4dc" stroke-width="0.22">15</text>
<text x="408.06" y="465.20" textLength="18.9" lengthAdjust="spacingAndGlyphs" stroke="#d1d4dc" stroke-width="0.4">Oct</text>
<text x="491.68" y="465.20" textLength="12.2" lengthAdjust="spacingAndGlyphs" stroke="#d1d4dc" stroke-width="0.22">15</text>
<text x="592.10" y="465.20" textLength="20.1" lengthAdjust="spacingAndGlyphs" stroke="#d1d4dc" stroke-width="0.4">Nov</text>
<text x="675.72" y="465.20" textLength="12.2" lengthAdjust="spacingAndGlyphs" stroke="#d1d4dc" stroke-width="0.22">15</text>
</g>
<line x1="-3.0" x2="695" y1="295.6" y2="295.6" stroke="#f23645" stroke-width="1.25" stroke-dasharray="1.6 1.368"/>
</svg></body></html>
